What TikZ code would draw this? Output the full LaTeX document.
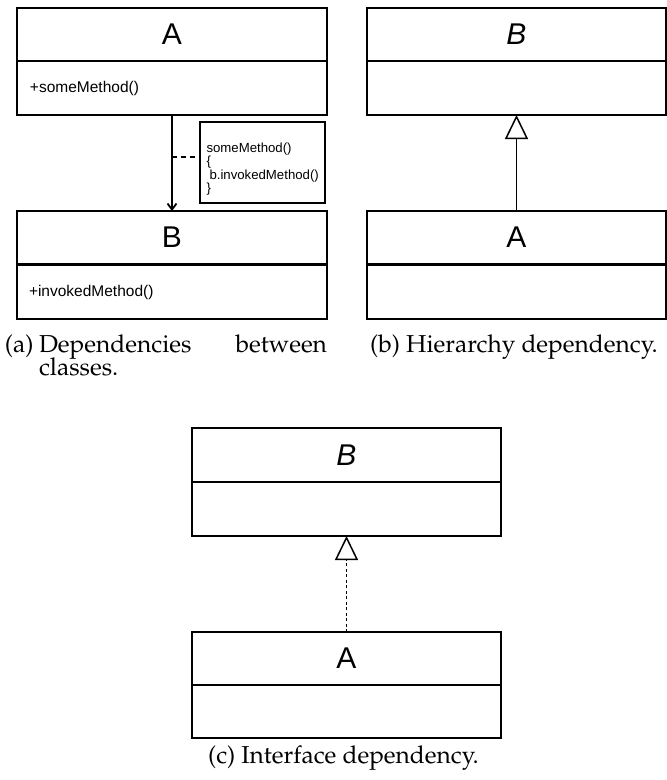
\documentclass[tikz,border=0pt]{standalone}
\usepackage[T1]{fontenc}
\usepackage{fontspec}
\setsansfont{Liberation Sans}
\usetikzlibrary{arrows.meta}
% Palatino-style caption face
\newcommand\captionface{\fontencoding{T1}\fontfamily{ppl}\fontsize{24.5}{24.5}\selectfont}

\begin{document}
\begin{tikzpicture}[x=1pt,y=-1pt,
  every node/.style={inner sep=0pt, outer sep=0pt},
  umlline/.style={line width=1.5pt, draw=black},
  classname/.style={umlline, draw, anchor=north west, minimum height=53pt,
    font=\sffamily\fontsize{30}{30}\selectfont},
  classbody/.style={umlline, draw, anchor=north west, minimum height=54pt},
  method/.style={anchor=west, font=\sffamily\fontsize{15.5}{15.5}\selectfont},
  capt/.style={font=\captionface},
  connector/.style={line width=1.8pt, draw=black},
  realize/.style={connector, -{Triangle[open, length=24pt, width=23pt, line width=1.5pt]}},
  uses/.style={connector, -{Straight Barb[length=6pt, width=9pt]}}
]
\useasboundingbox (0,0) rectangle (667,780);

% (a) class A calls into class B
\node[classname, minimum width=310pt] (aA) at (17,8) {A};
\node[classbody, minimum width=310pt] (aAbody) at (17,61) {};
\node[method] (aAm) at ([xshift=13pt]aAbody.west) {+someMethod()};
\node[classname, minimum width=310pt] (aB) at (17,211) {B};
\node[classbody, minimum width=310pt] (aBbody) at (17,265) {};
\node[method] (aBm) at ([xshift=12pt]aBbody.west) {+invokedMethod()};
\draw[uses] (aAbody.south) -- (aB.north);

\node[umlline, draw, anchor=north west, minimum width=125pt, minimum height=81pt] (note) at (200,122) {};
\node[anchor=north west, align=left, font=\sffamily\fontsize{13.2}{13.4}\selectfont] (notetext) at (206.5,143)
  {someMethod()\\\{\\\hspace*{3pt}b.invokedMethod()\\\}};
\coordinate (link) at (172,157);
\draw[connector, dash pattern=on 5pt off 4pt] (link) -- (link -| note.west);

\node[capt, anchor=base west] (capAl) at (5,352) {(a)};
\node[capt, anchor=base west] (capA1) at (39,352) {Dependencies};
\node[capt, anchor=base east] (capA2) at (327,352) {between};
\node[capt, anchor=base west] (capA3) at (39,375) {classes.};

% (b) inheritance
\node[classname, minimum width=299pt] (bB) at (367,8) {\itshape B};
\node[classbody, minimum width=299pt] (bBbody) at (367,61) {};
\node[classname, minimum width=299pt] (bA) at (367,211) {A};
\node[classbody, minimum width=299pt] (bAbody) at (367,265) {};
\draw[realize] (bA.north) -- (bBbody.south);
\node[capt, anchor=base] (capB) at (514,352) {(b) Hierarchy dependency.};

% (c) interface realisation
\node[classname, minimum width=309pt, minimum height=54pt] (cB) at (192,428) {\itshape B};
\node[classbody, minimum width=309pt] (cBbody) at (192,482) {};
\node[classname, minimum width=309pt] (cA) at (192,632) {A};
\node[classbody, minimum width=309pt, minimum height=53pt] (cAbody) at (192,685) {};
\draw[realize, dash pattern=on 3pt off 2.5pt] (cA.north) -- (cBbody.south);
\node[capt, anchor=base] (capC) at (343.5,763) {(c) Interface dependency.};
\end{tikzpicture}
\end{document}
